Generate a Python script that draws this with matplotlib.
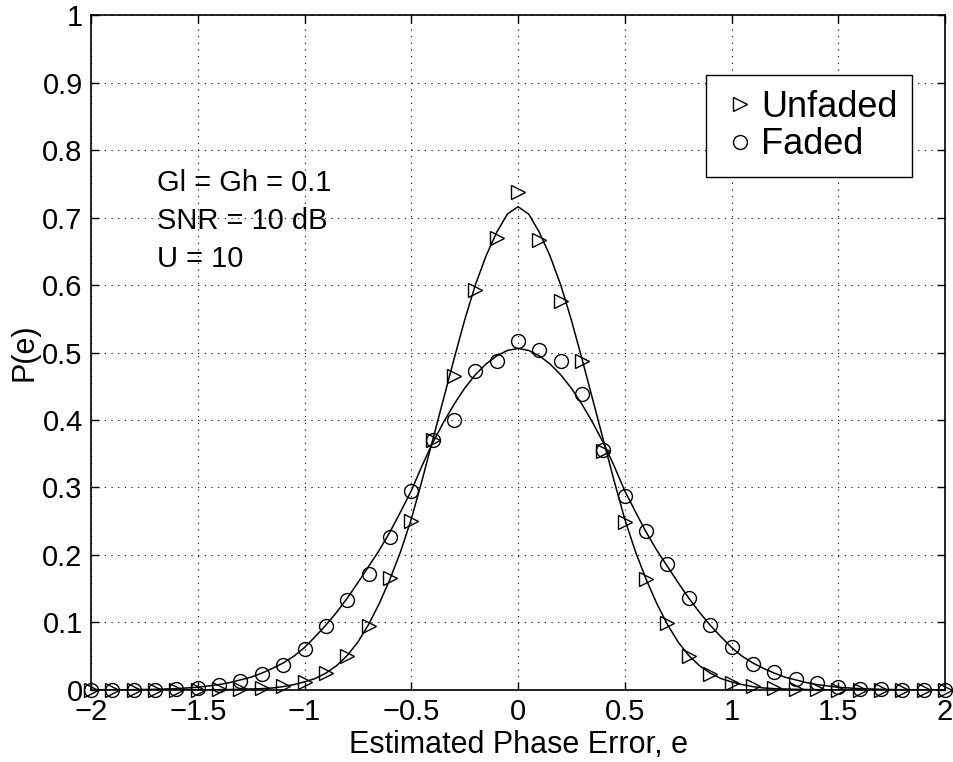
import matplotlib
matplotlib.use("Agg")
import matplotlib.pyplot as plt
from matplotlib.lines import Line2D
import numpy as np

plt.rcParams['font.family'] = ['Liberation Sans', 'DejaVu Sans']

# simulated points, e = -2 ... 2 in steps of 0.1
e_points = np.linspace(-2, 2, 41)
unfaded_pts = [0, 0, 0, 0, 0, 0.0005, 0.001, 0.002, 0.003, 0.006,
               0.012, 0.025, 0.050, 0.095, 0.166, 0.251, 0.371, 0.465, 0.593, 0.669,
               0.738,
               0.666, 0.576, 0.487, 0.354, 0.249, 0.165, 0.099, 0.051, 0.023, 0.011,
               0.006, 0.003, 0.002, 0.001, 0.0005, 0, 0, 0, 0, 0]
faded_pts = [0, 0, 0, 0.0005, 0.001, 0.003, 0.007, 0.014, 0.023, 0.037,
             0.060, 0.095, 0.134, 0.172, 0.226, 0.295, 0.371, 0.400, 0.472, 0.487,
             0.517,
             0.504, 0.487, 0.438, 0.356, 0.287, 0.235, 0.187, 0.136, 0.097, 0.063,
             0.038, 0.026, 0.016, 0.010, 0.004, 0.002, 0.001, 0, 0, 0]

# analytic curves, e = -2 ... 2 in steps of 0.05
e_curve = np.linspace(-2, 2, 81)
unfaded_curve = [0, 0, 0, 0, 0, 0, 0, 0, 0, 0,
                 0.0002, 0.0003, 0.0005, 0.0007, 0.001, 0.0015, 0.002, 0.003, 0.005, 0.008,
                 0.012, 0.017, 0.025, 0.036, 0.051, 0.071, 0.097, 0.128, 0.164, 0.205,
                 0.253, 0.310, 0.370, 0.430, 0.490, 0.548, 0.600, 0.643, 0.678, 0.705,
                 0.716,
                 0.705, 0.678, 0.643, 0.600, 0.548, 0.490, 0.430, 0.370, 0.310, 0.253,
                 0.205, 0.164, 0.128, 0.097, 0.071, 0.051, 0.036, 0.025, 0.017, 0.012,
                 0.008, 0.005, 0.003, 0.002, 0.0015, 0.001, 0.0007, 0.0005, 0.0003, 0.0002,
                 0, 0, 0, 0, 0, 0, 0, 0, 0, 0]
faded_curve = [0, 0.0001, 0.0002, 0.0003, 0.0005, 0.0007, 0.001, 0.0015, 0.002, 0.003,
               0.004, 0.006, 0.008, 0.011, 0.015, 0.019, 0.025, 0.032, 0.040, 0.050,
               0.063, 0.079, 0.096, 0.115, 0.136, 0.159, 0.183, 0.207, 0.234, 0.264,
               0.295, 0.332, 0.366, 0.396, 0.423, 0.447, 0.467, 0.483, 0.495, 0.503,
               0.506,
               0.503, 0.495, 0.483, 0.467, 0.447, 0.423, 0.396, 0.366, 0.332, 0.295,
               0.264, 0.234, 0.207, 0.183, 0.159, 0.136, 0.115, 0.096, 0.079, 0.063,
               0.050, 0.040, 0.032, 0.025, 0.019, 0.015, 0.011, 0.008, 0.006, 0.004,
               0.003, 0.002, 0.0015, 0.001, 0.0007, 0.0005, 0.0003, 0.0002, 0.0001, 0]

x_ticks = [-2, -1.5, -1, -0.5, 0, 0.5, 1, 1.5, 2]
x_ticklabels = ['\u22122', '\u22121.5', '\u22121', '\u22120.5', '0', '0.5', '1', '1.5', '2']
y_ticks = [0, 0.1, 0.2, 0.3, 0.4, 0.5, 0.6, 0.7, 0.8, 0.9, 1]
y_ticklabels = ['0', '0.1', '0.2', '0.3', '0.4', '0.5', '0.6', '0.7', '0.8', '0.9', '1']
notes = ['Gl = Gh = 0.1', 'SNR = 10 dB', 'U = 10']

fig = plt.figure(figsize=(9.54, 7.62), dpi=100)
ax = fig.add_axes([0.0954, 0.0945, 0.8952, 0.8858])

ax.plot(e_points, unfaded_pts, linestyle='none', marker='>', markersize=10,
        markerfacecolor='none', markeredgecolor='black', markeredgewidth=1.0, clip_on=False)
ax.plot(e_points, faded_pts, linestyle='none', marker='o', markersize=10,
        markerfacecolor='none', markeredgecolor='black', markeredgewidth=1.0, clip_on=False)
ax.plot(e_curve, unfaded_curve, color='black', linewidth=1.1)
ax.plot(e_curve, faded_curve, color='black', linewidth=1.1)

ax.set_xlim(-2, 2)
ax.set_ylim(0, 1)
ax.set_xticks(x_ticks)
ax.set_xticklabels(x_ticklabels)
ax.set_yticks(y_ticks)
ax.set_yticklabels(y_ticklabels)
ax.tick_params(direction='in', length=6, width=1.0, labelsize=21,
               top=True, right=True, pad=6)
ax.grid(True, color='black', linestyle=(0, (1, 5)), linewidth=0.8)
for s in ax.spines.values():
    s.set_linewidth(1.2)

ax.set_xlabel('Estimated Phase Error, e', fontsize=22, labelpad=3)
ax.set_ylabel('P(e)', fontsize=22, labelpad=2)

for i, t in enumerate(notes):
    ax.text(-1.69, 0.751 - i * 0.056, t, fontsize=21, va='center', ha='left')

handles = [Line2D([], [], linestyle='none', marker='>', markersize=10,
                  markerfacecolor='none', markeredgecolor='black'),
           Line2D([], [], linestyle='none', marker='o', markersize=10,
                  markerfacecolor='none', markeredgecolor='black')]
leg = ax.legend(handles, ['Unfaded', 'Faded'], loc='upper right',
                bbox_to_anchor=(0.961, 0.911), borderaxespad=0, fontsize=26,
                frameon=True, fancybox=False, edgecolor='black', framealpha=1,
                handlelength=1.09, handletextpad=0.04, borderpad=0.4,
                labelspacing=0.08)
leg.get_frame().set_linewidth(1.0)

plt.savefig('out.png', dpi=100)
